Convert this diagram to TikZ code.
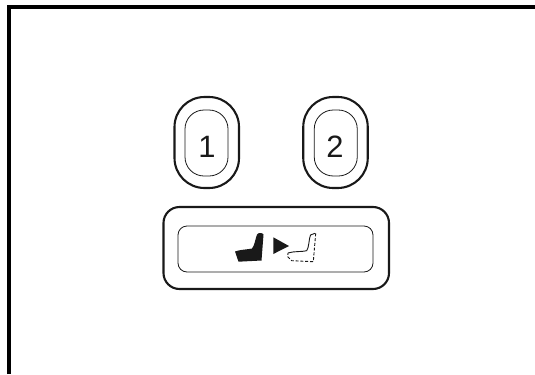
\documentclass[tikz,border=0pt]{standalone}
\usepackage{fontspec}
\setmainfont{Liberation Sans}
\definecolor{inkgray}{gray}{0.1}
\tikzset{
  outerbtn/.style={draw=inkgray,line width=2.1bp,inner sep=0pt},
  innerbtn/.style={draw=inkgray,line width=0.8bp,inner sep=0pt},
  digit/.style={inner sep=0pt,text=inkgray,font=\fontsize{31}{35}\selectfont},
}
\begin{document}
\begin{tikzpicture}[x=1bp,y=1bp]
  \path[use as bounding box] (0,0) rectangle (535,374);
  \fill[white] (0,0) rectangle (535,374);

  % frame, open to the right and below
  \draw[black,line width=3.8bp] (8.7,0) -- (8.7,367) -- (535,367);

  % upper buttons
  \node[outerbtn,rounded corners=30bp,minimum width=64.5bp,minimum height=91bp] (btnouterone) at (206.75,231.5) {};
  \node[innerbtn,rounded corners=19bp,minimum width=43bp,minimum height=66bp] (btninnerone) at (206.5,231) {};
  \node[digit] (labelone) at (207,227.5) {1};

  \node[outerbtn,rounded corners=30bp,minimum width=64.5bp,minimum height=91bp] (btnoutertwo) at (335.5,231.5) {};
  \node[innerbtn,rounded corners=19bp,minimum width=43bp,minimum height=66bp] (btninnertwo) at (335.75,231) {};
  \node[digit] (labeltwo) at (335,227.5) {2};

  % wide button
  \node[outerbtn,rounded corners=16bp,minimum width=225.5bp,minimum height=82bp] (btnouterwide) at (276.25,126) {};
  \node[innerbtn,rounded corners=9bp,minimum width=195bp,minimum height=46bp] (btninnerwide) at (275.5,125) {};

  % seat icons
  \fill[inkgray] (235,122.5) .. controls (240,124.5) and (248,124.5) .. (252,125.5) .. controls (254.5,128) and (255.5,136) .. (257,139.5) .. controls (258,141.5) and (262.5,141.5) .. (263.5,139.5) -- (261.5,113.5) -- (238.5,112.3) -- cycle;
  \fill[inkgray] (273.3,136.7) -- (273.3,120) -- (289,128) -- cycle;
  \draw[inkgray,line width=0.9bp] (288,121) .. controls (294,123) and (302,122) .. (306.7,123.3) .. controls (309,126) and (309,136) .. (310.5,139) -- (315,140.7);
  \draw[inkgray,line width=0.9bp,dash pattern=on 3bp off 1.8bp] (315.7,140.7) -- (313.3,112.3) -- (291.7,113.3) -- (287.7,117.3) -- (288,121);
\end{tikzpicture}
\end{document}
